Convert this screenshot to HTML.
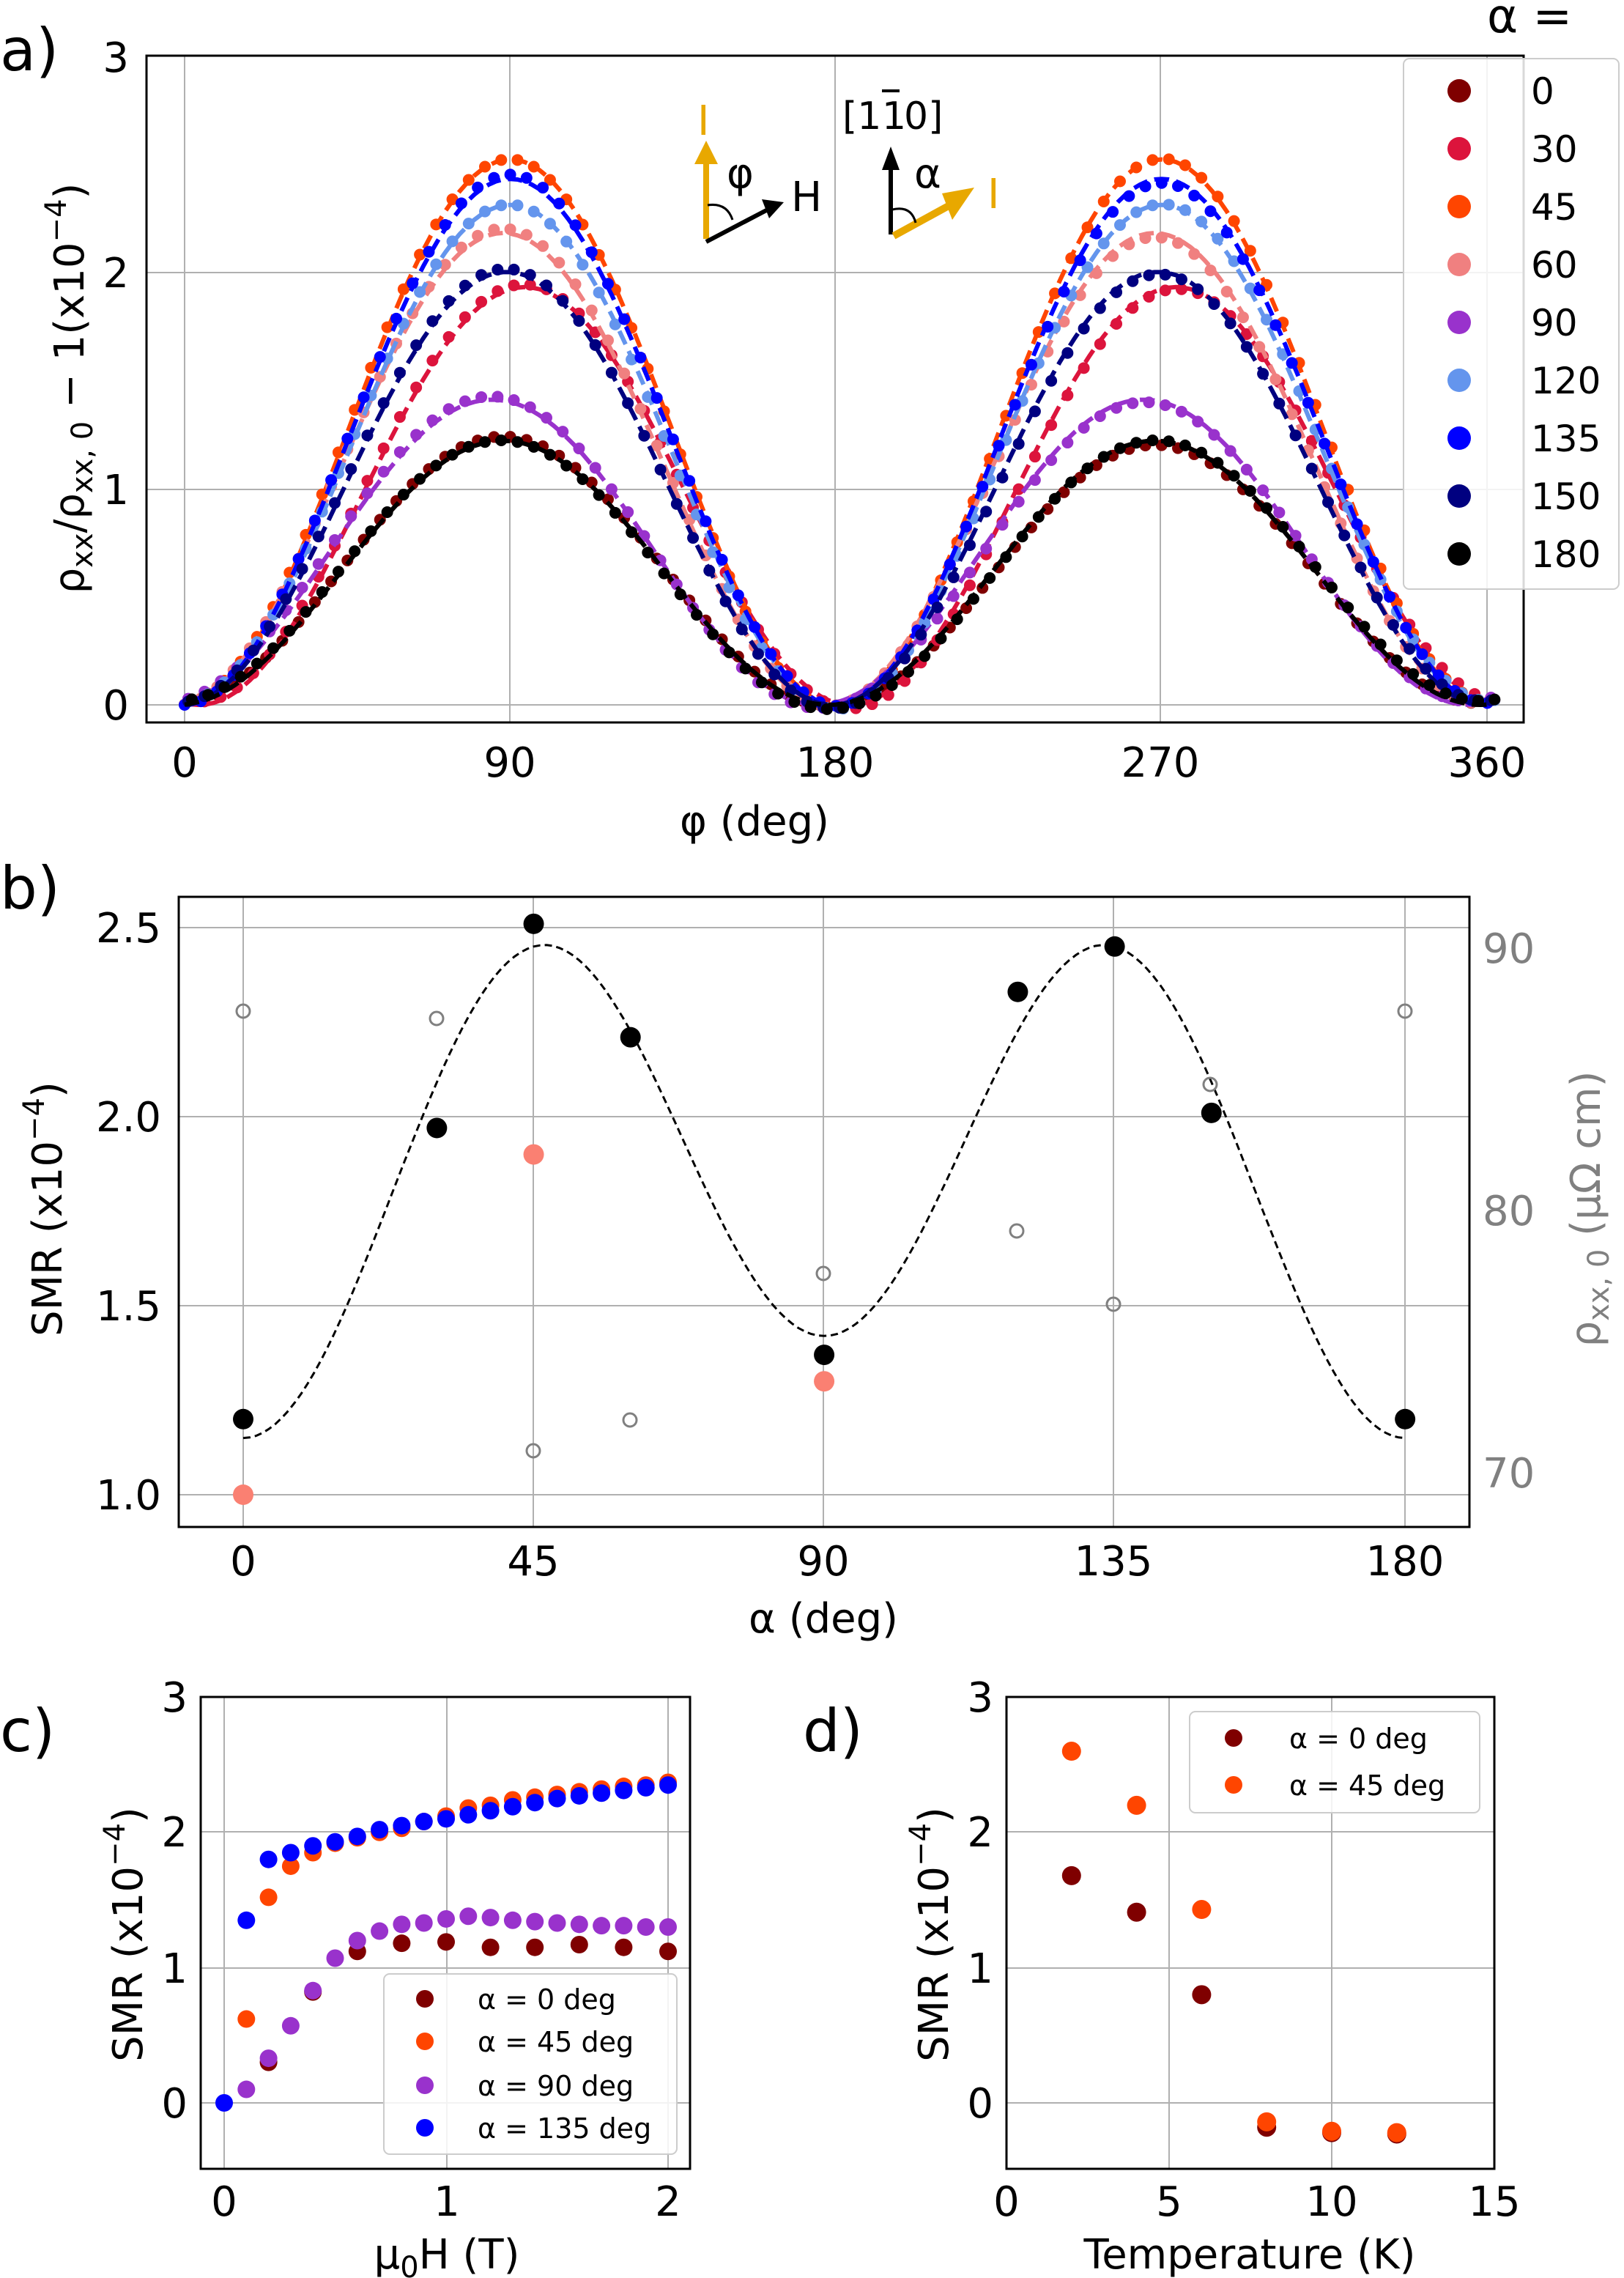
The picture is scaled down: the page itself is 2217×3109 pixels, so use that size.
<!DOCTYPE html>
<html><head><meta charset="utf-8"><style>
html,body{margin:0;padding:0;background:#fff;}
svg{display:block;}
text{font-family:"DejaVu Sans","Liberation Sans",sans-serif;}
</style></head><body>
<svg id="s" width="2217" height="3109" viewBox="0 0 1108.5 1554.5" xmlns="http://www.w3.org/2000/svg">
<g id="grid" stroke="#b0b0b0" stroke-width="1"></g>
<g id="plot"></g>
<rect x="100" y="38" width="940" height="455" fill="none" stroke="#000" stroke-width="1.5"/>
<g font-size="28" text-anchor="middle">
<text x="126" y="530">0</text><text x="348" y="530">90</text><text x="570" y="530">180</text><text x="792" y="530">270</text><text x="1015" y="530">360</text>
<text x="515" y="570">φ (deg)</text>
</g>
<g font-size="28" text-anchor="end">
<text x="88" y="491">0</text><text x="88" y="344">1</text><text x="88" y="196">2</text><text x="88" y="49">3</text>
</g>
<text font-size="28" transform="translate(57,265) rotate(-90)" text-anchor="middle">ρ<tspan font-size="20" dy="6">xx</tspan><tspan dy="-6">/ρ</tspan><tspan font-size="20" dy="6">xx, 0</tspan><tspan dy="-6"> − 1(x10</tspan><tspan font-size="20" dy="-12">−4</tspan><tspan dy="12">)</tspan></text>
<text x="0" y="48" font-size="40">a)</text>
<text x="1015" y="22" font-size="32">α =</text>
<rect x="958" y="40" width="147" height="362" rx="4" fill="#fff" fill-opacity="0.85" stroke="#ccc"/>
<g id="leg" font-size="25"></g>
<g>
<text x="476" y="92" font-size="28" fill="#e8a800" font-family="Liberation Serif">I</text>
<line x1="482" y1="163" x2="482" y2="110" stroke="#e8a800" stroke-width="4"/>
<polygon points="474,112 482,96 490,112" fill="#e8a800"/>
<line x1="482" y1="165" x2="526" y2="142" stroke="#000" stroke-width="3"/>
<polygon points="520,136 535,138 525,149" fill="#000"/>
<text x="496" y="128" font-size="28">φ</text>
<text x="540" y="144" font-size="28">H</text>
<path d="M483,140 Q496,138 500,150" fill="none" stroke="#000" stroke-width="1.5"/>
<text x="575" y="88" font-size="26">[1</text><text x="602" y="88" font-size="26">1</text><line x1="602" y1="62" x2="614" y2="62" stroke="#000" stroke-width="2"/><text x="617" y="88" font-size="26">0]</text>
<line x1="608" y1="160" x2="608" y2="112" stroke="#000" stroke-width="3"/>
<polygon points="602,116 608,100 614,116" fill="#000"/>
<line x1="610" y1="161" x2="652" y2="138" stroke="#e8a800" stroke-width="5"/>
<polygon points="643,132 665,128 650,150" fill="#e8a800"/>
<text x="624" y="128" font-size="28">α</text>
<text x="674" y="142" font-size="28" fill="#e8a800" font-family="Liberation Serif">I</text>
<path d="M609,143 Q622,140 625,152" fill="none" stroke="#000" stroke-width="1.5"/>
</g>
<rect x="122" y="612" width="881" height="430" fill="none" stroke="#000" stroke-width="1.5"/>
<g font-size="28" text-anchor="middle">
<text x="166" y="1075">0</text><text x="364" y="1075">45</text><text x="562" y="1075">90</text><text x="760" y="1075">135</text><text x="959" y="1075">180</text>
<text x="562" y="1114">α (deg)</text>
</g>
<g font-size="28" text-anchor="end">
<text x="110" y="1030">1.0</text><text x="110" y="901">1.5</text><text x="110" y="772">2.0</text><text x="110" y="643">2.5</text>
</g>
<g font-size="28" fill="#808080">
<text x="1012" y="1015">70</text><text x="1012" y="836">80</text><text x="1012" y="657">90</text>
</g>
<text font-size="28" transform="translate(42,825) rotate(-90)" text-anchor="middle">SMR (x10<tspan font-size="20" dy="-12">−4</tspan><tspan dy="12">)</tspan></text>
<text font-size="28" fill="#808080" transform="translate(1092,825) rotate(-90)" text-anchor="middle">ρ<tspan font-size="20" dy="6">xx, 0</tspan><tspan dy="-6"> (μΩ cm)</tspan></text>
<text x="0" y="620" font-size="40">b)</text>
<rect x="137" y="1158" width="334" height="322" fill="none" stroke="#000" stroke-width="1.5"/>
<g font-size="28" text-anchor="middle">
<text x="153" y="1512">0</text><text x="305" y="1512">1</text><text x="456" y="1512">2</text>
<text x="305" y="1548">μ<tspan font-size="20" dy="6">0</tspan><tspan dy="-6">H (T)</tspan></text>
</g>
<g font-size="28" text-anchor="end">
<text x="128" y="1445">0</text><text x="128" y="1353">1</text><text x="128" y="1260">2</text><text x="128" y="1168">3</text>
</g>
<text font-size="28" transform="translate(97,1320) rotate(-90)" text-anchor="middle">SMR (x10<tspan font-size="20" dy="-12">−4</tspan><tspan dy="12">)</tspan></text>
<text x="0" y="1195" font-size="40">c)</text>
<rect x="262" y="1347" width="200" height="123" rx="4" fill="#fff" fill-opacity="0.85" stroke="#ccc"/>
<rect x="687" y="1158" width="333" height="322" fill="none" stroke="#000" stroke-width="1.5"/>
<g font-size="28" text-anchor="middle">
<text x="687" y="1512">0</text><text x="798" y="1512">5</text><text x="909" y="1512">10</text><text x="1020" y="1512">15</text>
<text x="853" y="1548">Temperature (K)</text>
</g>
<g font-size="28" text-anchor="end">
<text x="678" y="1445">0</text><text x="678" y="1353">1</text><text x="678" y="1260">2</text><text x="678" y="1168">3</text>
</g>
<text font-size="28" transform="translate(647,1320) rotate(-90)" text-anchor="middle">SMR (x10<tspan font-size="20" dy="-12">−4</tspan><tspan dy="12">)</tspan></text>
<text x="548" y="1195" font-size="40">d)</text>
<rect x="812" y="1168" width="198" height="69" rx="4" fill="#fff" fill-opacity="0.85" stroke="#ccc"/>
<g font-size="19">
<circle cx="290" cy="1364" r="6" fill="#7f0000"/><text x="326" y="1371">α = 0 deg</text>
<circle cx="290" cy="1393" r="6" fill="#ff4500"/><text x="326" y="1400">α = 45 deg</text>
<circle cx="290" cy="1423" r="6" fill="#9932cc"/><text x="326" y="1430">α = 90 deg</text>
<circle cx="290" cy="1452" r="6" fill="#0000ff"/><text x="326" y="1459">α = 135 deg</text>
<circle cx="842" cy="1186" r="6" fill="#7f0000"/><text x="880" y="1193">α = 0 deg</text>
<circle cx="842" cy="1218" r="6" fill="#ff4500"/><text x="880" y="1225">α = 45 deg</text>
</g>
</svg>
<script>
var NS="http://www.w3.org/2000/svg";
function el(p,t,a){var e=document.createElementNS(NS,t);for(var k in a)e.setAttribute(k,a[k]);p.appendChild(e);return e;}
var G=document.getElementById('grid'),P=document.getElementById('plot');
[126,348,570,792,1015].forEach(function(x){el(G,'line',{x1:x,y1:38,x2:x,y2:493});});
[481,334,186,38].forEach(function(y){el(G,'line',{x1:100,y1:y,x2:1040,y2:y});});
[166,364,562,760,959].forEach(function(x){el(G,'line',{x1:x,y1:612,x2:x,y2:1042});});
[1020,891,762,633].forEach(function(y){el(G,'line',{x1:122,y1:y,x2:1003,y2:y});});
[153,305,456].forEach(function(x){el(G,'line',{x1:x,y1:1158,x2:x,y2:1480});});
[1435,1343,1250,1158].forEach(function(y){el(G,'line',{x1:137,y1:y,x2:471,y2:y});el(G,'line',{x1:687,y1:y,x2:1020,y2:y});});
[687,798,909,1020].forEach(function(x){el(G,'line',{x1:x,y1:1158,x2:x,y2:1480});});
var ser=[[0,'#7f0000',1.22,-2],[30,'#dc143c',1.93,4],[45,'#ff4500',2.52,0],[60,'#f08080',2.18,-2],[90,'#9932cc',1.41,-5],[120,'#6495ed',2.31,0],[135,'#0000ff',2.43,0],[150,'#000080',2.0,-1],[180,'#000000',1.22,-2]];
function ax(p){return 126+p*2.47;}function ay(v){return 481-v*147.7;}
ser.forEach(function(s,i){
 var A=s[2],sh=s[3];
 function f(p){var r=Math.sin((p-sh)*Math.PI/180);return A*r*r;}
 var d='';for(var p=0;p<=360;p+=2){d+=(p?'L':'M')+ax(p).toFixed(1)+','+ay(f(p)).toFixed(1);}
 el(P,'path',{d:d,fill:'none',stroke:s[1],'stroke-width':3,'stroke-dasharray':'10,5'});
 for(var p=i%3;p<=362;p+=4.5){el(P,'circle',{cx:ax(p),cy:ay(f(p)+0.02*Math.sin(p*7)),r:4,fill:s[1]});}
 var L=document.getElementById('leg');var y=62+i*39.5;
 el(L,'circle',{cx:996,cy:y,r:8,fill:s[1]});
 var t=el(L,'text',{x:1045,y:y+9});t.textContent=s[0];
});
function bx(a){return 166+a*4.406;}function by(v){return 1020-(v-1)*258;}
var d='';for(var a=0;a<=180;a+=1){var r=a*Math.PI/180;var v=1.15+1.165*Math.pow(Math.sin(2*r),2)+0.27*Math.pow(Math.sin(r),2);d+=(a?'L':'M')+bx(a).toFixed(1)+','+by(v).toFixed(1);}
el(P,'path',{d:d,fill:'none',stroke:'#000','stroke-width':1.5,'stroke-dasharray':'5,3'});
[[166,690],[298,695],[364,990],[430,969],[562,869],[694,840],[760,890],[826,740],[959,690]].forEach(function(q){el(P,'circle',{cx:q[0],cy:q[1],r:4.5,fill:'none',stroke:'#808080','stroke-width':1.5});});
[[0,1.2],[30,1.97],[45,2.51],[60,2.21],[90,1.37],[120,2.33],[135,2.45],[150,2.01],[180,1.2]].forEach(function(q){el(P,'circle',{cx:bx(q[0]),cy:by(q[1]),r:7,fill:'#000'});});
[[0,1.0],[45,1.9],[90,1.3]].forEach(function(q){el(P,'circle',{cx:bx(q[0]),cy:by(q[1]),r:7,fill:'#fa8072'});});
function cx(h){return 153+h*151.5;}function cy(v){return 1435-v*92.3;}
var h=[0,.1,.2,.3,.4,.5,.6,.7,.8,.9,1,1.1,1.2,1.3,1.4,1.5,1.6,1.7,1.8,1.9,2];
var blue=[0,1.35,1.8,1.85,1.9,1.93,1.97,2.02,2.05,2.08,2.1,2.13,2.16,2.19,2.22,2.25,2.27,2.29,2.31,2.33,2.35];
var orng=[null,.62,1.52,1.75,1.85,1.92,1.96,2.0,2.03,2.08,2.12,2.18,2.2,2.24,2.26,2.28,2.3,2.32,2.34,2.35,2.37];
var purp=[null,.1,.33,.57,.83,1.07,1.2,1.27,1.32,1.33,1.36,1.38,1.37,1.35,1.34,1.33,1.32,1.31,1.31,1.3,1.3];
var dred=[[.2,.3],[.4,.82],[.6,1.12],[.8,1.18],[1,1.19],[1.2,1.15],[1.4,1.15],[1.6,1.17],[1.8,1.15],[2,1.12]];
dred.forEach(function(q){el(P,'circle',{cx:cx(q[0]),cy:cy(q[1]),r:6,fill:'#7f0000'});});
h.forEach(function(x,i){if(orng[i]!=null)el(P,'circle',{cx:cx(x),cy:cy(orng[i]),r:6,fill:'#ff4500'});});
h.forEach(function(x,i){if(purp[i]!=null)el(P,'circle',{cx:cx(x),cy:cy(purp[i]),r:6,fill:'#9932cc'});});
h.forEach(function(x,i){el(P,'circle',{cx:cx(x),cy:cy(blue[i]),r:6,fill:'#0000ff'});});
function dx(t){return 687+t*22.2;}
[[2,1.68],[4,1.41],[6,0.8],[8,-0.18],[10,-0.22],[12,-0.23]].forEach(function(q){el(P,'circle',{cx:dx(q[0]),cy:cy(q[1]),r:6.5,fill:'#7f0000'});});
[[2,2.6],[4,2.2],[6,1.43],[8,-0.14],[10,-0.21],[12,-0.22]].forEach(function(q){el(P,'circle',{cx:dx(q[0]),cy:cy(q[1]),r:6.5,fill:'#ff4500'});});
</script>
</body></html>
